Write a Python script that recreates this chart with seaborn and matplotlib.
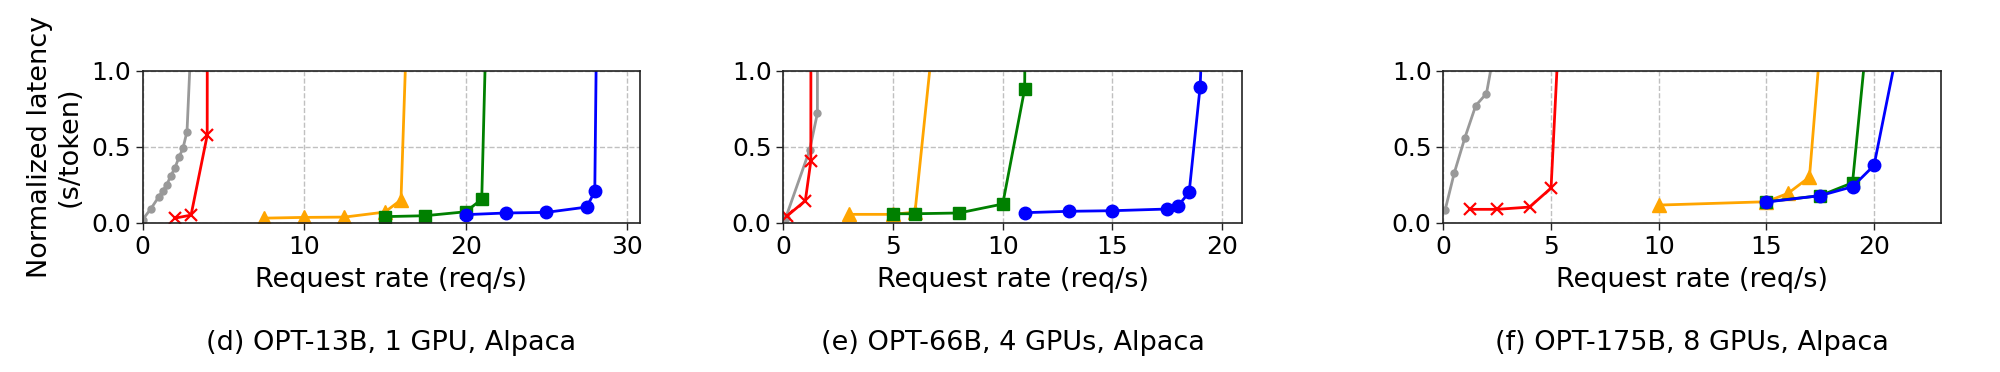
#!/usr/bin/env python3
import matplotlib
matplotlib.use("Agg")
import seaborn as sns
from matplotlib import pyplot as plt

# ---- data (x = request rate, y = normalized latency) ----
# (d) OPT-13B, 1 GPU
d_gray_x = [0.0, 0.5, 1.0, 1.25, 1.5, 1.75, 2.0, 2.25, 2.5, 2.75, 3.0]
d_gray_y = [0.02, 0.09, 0.17, 0.21, 0.25, 0.31, 0.36, 0.43, 0.49, 0.60, 1.2]
d_red_x = [2.0, 3.0, 4.0, 4.02]
d_red_y = [0.03, 0.05, 0.575, 3.0]
d_orange_x = [7.5, 10.0, 12.5, 15.0, 16.0, 16.5]
d_orange_y = [0.03, 0.035, 0.037, 0.07, 0.15, 1.75]
d_green_x = [15.0, 17.5, 20.0, 21.0, 21.5]
d_green_y = [0.04, 0.046, 0.072, 0.154, 2.25]
d_blue_x = [20.0, 22.5, 25.0, 27.5, 28.0, 29.3]
d_blue_y = [0.053, 0.064, 0.068, 0.103, 0.206, 13.0]

# (e) OPT-66B, 4 GPUs
e_gray_x = [0.1, 1.2, 1.55, 1.56]
e_gray_y = [0.03, 0.48, 0.72, 4.0]
e_red_x = [0.18, 1.0, 1.25, 1.27]
e_red_y = [0.046, 0.145, 0.405, 4.0]
e_orange_x = [3.0, 5.0, 6.0, 7.0]
e_orange_y = [0.055, 0.055, 0.07, 1.46]
e_green_x = [5.0, 6.0, 8.0, 10.0, 11.0, 11.1]
e_green_y = [0.059, 0.059, 0.064, 0.123, 0.88, 3.0]
e_blue_x = [11.0, 13.0, 15.0, 17.5, 18.0, 18.5, 19.0, 20.0]
e_blue_y = [0.066, 0.075, 0.079, 0.09, 0.112, 0.2, 0.895, 4.4]

# (f) OPT-175B, 8 GPUs
f_gray_x = [0.08, 0.5, 1.0, 1.5, 2.0, 2.5]
f_gray_y = [0.083, 0.325, 0.56, 0.77, 0.85, 1.24]
f_red_x = [1.25, 2.5, 4.0, 5.0, 5.5]
f_red_y = [0.088, 0.088, 0.103, 0.228, 1.65]
f_orange_x = [10.0, 15.0, 16.0, 17.0, 18.0]
f_orange_y = [0.116, 0.138, 0.193, 0.30, 2.03]
f_green_x = [15.0, 17.5, 19.0, 20.0]
f_green_y = [0.138, 0.178, 0.263, 1.7]
f_blue_x = [15.0, 17.5, 19.0, 20.0, 22.0]
f_blue_y = [0.136, 0.178, 0.237, 0.377, 1.79]

captions = ["(d) OPT-13B, 1 GPU, Alpaca",
            "(e) OPT-66B, 4 GPUs, Alpaca",
            "(f) OPT-175B, 8 GPUs, Alpaca"]
xticks = [[0, 10, 20, 30], [0, 5, 10, 15, 20], [0, 5, 10, 15, 20]]
xmax = [30.8, 20.9, 23.1]

panels = [
    [(d_gray_x, d_gray_y), (d_red_x, d_red_y), (d_orange_x, d_orange_y),
     (d_green_x, d_green_y), (d_blue_x, d_blue_y)],
    [(e_gray_x, e_gray_y), (e_red_x, e_red_y), (e_orange_x, e_orange_y),
     (e_green_x, e_green_y), (e_blue_x, e_blue_y)],
    [(f_gray_x, f_gray_y), (f_red_x, f_red_y), (f_orange_x, f_orange_y),
     (f_green_x, f_green_y), (f_blue_x, f_blue_y)],
]

# color, marker, markersize, markeredgewidth
series_styles = [
    ("#999999", "o", 5, 1.0),
    ("red", "x", 9, 1.6),
    ("orange", "^", 10, 1.0),
    ("green", "s", 9, 1.0),
    ("blue", "o", 9, 1.0),
]

axes_rects = [
    [0.0713, 0.4013, 0.2487, 0.4086],
    [0.3917, 0.4013, 0.2292, 0.4086],
    [0.7217, 0.4013, 0.2487, 0.4086],
]


def main():
    sns.set_theme(style="ticks")
    plt.rcParams['font.family'] = ['DejaVu Sans']
    plt.rcParams['text.color'] = 'black'
    plt.rcParams['axes.labelcolor'] = 'black'
    plt.rcParams['xtick.color'] = 'black'
    plt.rcParams['ytick.color'] = 'black'
    fig = plt.figure(figsize=(20, 3.72), dpi=100)

    for i, series_list in enumerate(panels):
        ax = fig.add_axes(axes_rects[i])
        for (xs, ys), (color, marker, ms, mew) in zip(series_list, series_styles):
            sns.lineplot(x=xs, y=ys, color=color, marker=marker, markersize=ms,
                         mec=color, mew=mew, lw=2, ax=ax, sort=False,
                         estimator=None, legend=False)
        ax.set_xlim(0, xmax[i])
        ax.set_ylim(0, 1.0)
        ax.set_xticks(xticks[i])
        ax.set_yticks([0.0, 0.5, 1.0])
        ax.set_yticklabels(["0.0", "0.5", "1.0"])
        ax.tick_params(labelsize=18, length=5, width=1, color="#222222")
        ax.grid(True, ls="--", color="#c0c0c0", lw=1)
        for sp in ax.spines.values():
            sp.set_color("#222222")
            sp.set_linewidth(1.2)
        ax.set_xlabel("Request rate (req/s)", fontsize=19.5, labelpad=6)
        if i == 0:
            ax.set_ylabel("Normalized latency\n(s/token)", fontsize=19.5, labelpad=6)
        else:
            ax.set_ylabel("")
        ax.text(0.5, -0.79, captions[i], transform=ax.transAxes, ha="center",
                va="center", fontsize=19.5)

    fig.savefig("out.png", dpi=100)
    plt.close(fig)


if __name__ == "__main__":
    main()
